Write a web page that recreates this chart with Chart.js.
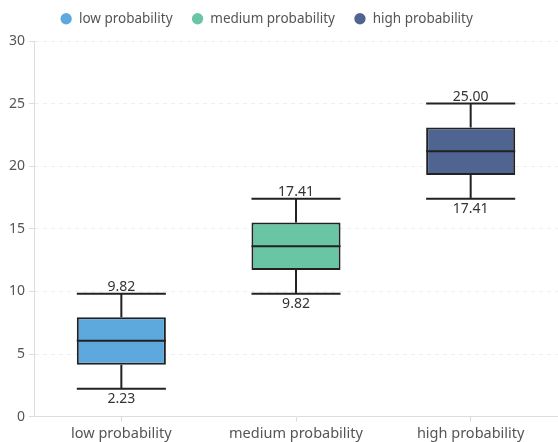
<!DOCTYPE html>
<html>
<head>
<meta charset="utf-8">
<script src="https://cdn.jsdelivr.net/npm/chart.js@4/dist/chart.umd.min.js"></script>
<style>
  html, body { margin: 0; padding: 0; background: #fff; }
  #wrap { width: 558px; height: 442px; }
</style>
</head>
<body>
<div id="wrap"><canvas id="chart"></canvas></div>
<script>
const categories = ['low probability', 'medium probability', 'high probability'];
const mins = [2.23, 9.82, 17.41];
const q1s = [4.15, 11.7, 19.3];
const medians = [6.05, 13.6, 21.2];
const q3s = [7.93, 15.5, 23.1];
const maxs = [9.82, 17.41, 25.00];
const colors = ['#5DA9DD', '#6AC5A4', '#4F6491'];

const FONT = '"Noto Sans", sans-serif';

// one dataset per category so the legend gets three entries
const datasets = categories.map((name, i) => ({
    label: name,
    data: categories.map((_, j) => j === i ? [q1s[i], q3s[i]] : null),
    backgroundColor: colors[i],
    borderColor: '#222',
    borderWidth: 2,
    borderSkipped: false
}));

// whiskers, caps, median and the min / max labels
const boxExtras = {
    id: 'boxExtras',
    afterLayout(chart) {
        // legend sits a bit left of centre in the original
        chart.legend.right -= 30;
    },
    afterDatasetsDraw(chart) {
        const ctx = chart.ctx;
        const y = chart.scales.y;
        chart.data.datasets.forEach((ds, i) => {
            const el = chart.getDatasetMeta(i).data[i];
            if (!el) return;
            const x = el.x;
            const half = el.width / 2;
            const yMin = y.getPixelForValue(mins[i]);
            const yMax = y.getPixelForValue(maxs[i]);
            const yQ1 = y.getPixelForValue(q1s[i]);
            const yQ3 = y.getPixelForValue(q3s[i]);
            const yMed = y.getPixelForValue(medians[i]);
            ctx.save();
            ctx.strokeStyle = '#222';
            ctx.lineWidth = 2;
            ctx.beginPath();
            ctx.moveTo(x, yQ3); ctx.lineTo(x, yMax);
            ctx.moveTo(x, yQ1); ctx.lineTo(x, yMin);
            ctx.moveTo(x - half, yMax); ctx.lineTo(x + half, yMax);
            ctx.moveTo(x - half, yMin); ctx.lineTo(x + half, yMin);
            ctx.moveTo(x - half, yMed); ctx.lineTo(x + half, yMed);
            ctx.stroke();

            ctx.fillStyle = '#333';
            ctx.font = '14px ' + FONT;
            ctx.textAlign = 'center';
            ctx.textBaseline = 'alphabetic';
            ctx.fillText(maxs[i].toFixed(2), x, yMax - 3);
            ctx.fillText(mins[i].toFixed(2), x, yMin + 14);
            ctx.restore();
        });
    }
};

new Chart(document.getElementById('chart'), {
    type: 'bar',
    data: { labels: categories, datasets: datasets },
    plugins: [boxExtras],
    options: {
        responsive: true,
        maintainAspectRatio: false,
        animation: false,
        layout: { padding: { top: -7, right: 0, bottom: -5, left: 5 } },
        datasets: {
            bar: {
                grouped: false,
                categoryPercentage: 1,
                barPercentage: 0.51
            }
        },
        plugins: {
            tooltip: { enabled: false },
            // empty title just keeps a gap between legend and plot
            title: {
                display: true,
                text: '',
                padding: 0,
                weight: 100,
                font: { size: 5.5, lineHeight: 1 }
            },
            legend: {
                position: 'top',
                labels: {
                    usePointStyle: true,
                    pointStyle: 'circle',
                    boxWidth: 12,
                    boxHeight: 8,
                    padding: 19,
                    color: '#555',
                    font: { family: FONT, size: 13.5 },
                    generateLabels(chart) {
                        const items = Chart.defaults.plugins.legend.labels.generateLabels(chart);
                        return items.map(it => ({ ...it, strokeStyle: it.fillStyle, lineWidth: 0 }));
                    }
                }
            }
        },
        scales: {
            x: {
                grid: {
                    offset: false,
                    drawOnChartArea: false,
                    tickLength: 5,
                    tickColor: '#ddd'
                },
                border: { color: '#ddd', width: 1 },
                ticks: {
                    padding: 4,
                    color: '#555',
                    font: { family: FONT, size: 14.5 }
                }
            },
            y: {
                min: 0,
                max: 30,
                ticks: {
                    stepSize: 5,
                    padding: 4,
                    color: '#555',
                    font: { family: FONT, size: 14 }
                },
                grid: {
                    color: '#eee',
                    tickLength: 5,
                    tickColor: '#ddd'
                },
                border: { color: '#ddd', width: 1, dash: [4, 4] }
            }
        }
    }
});
</script>
</body>
</html>
